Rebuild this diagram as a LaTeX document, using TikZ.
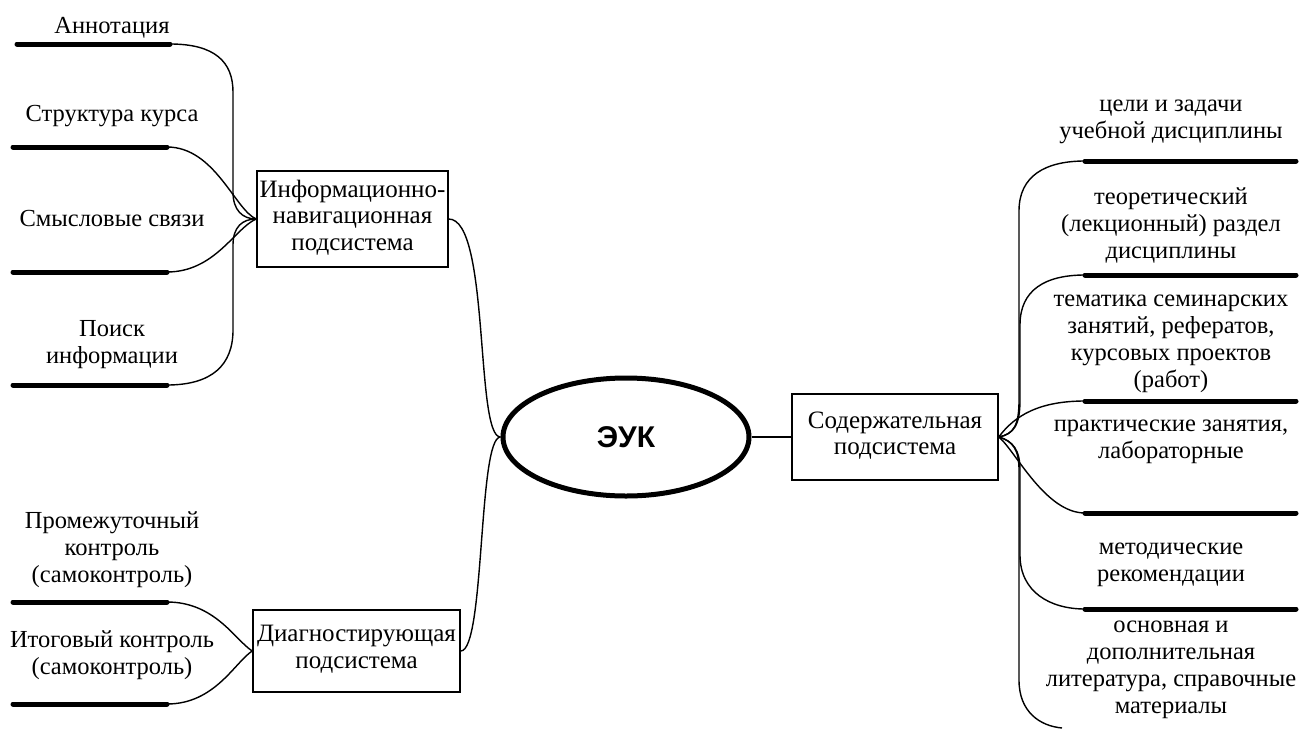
\documentclass[tikz,border=0pt]{standalone}
\usepackage{fontspec}
\setmainfont{Liberation Serif}
\newfontfamily\eukfont{Liberation Sans}
\usetikzlibrary{shapes.geometric}
\begin{document}
\begin{tikzpicture}[x=1pt,y=-1pt,
  lbl/.style={align=center,font=\fontsize{24.5}{27}\selectfont,inner sep=0pt,yshift=-3pt,
              execute at begin node=\strut, execute at end node=\strut},
  bar/.style={line width=5pt,line cap=round},
  conn/.style={line width=1.4pt},
  sysbox/.style={draw,line width=1.5pt,inner sep=0pt,align=center,font=\fontsize{25}{26.5}\selectfont,
              execute at begin node=\strut, execute at end node=\strut},
]
\useasboundingbox (0,0) rectangle (1299,731);

% central ellipse
\node[ellipse, draw, line width=5pt, minimum width=246pt, minimum height=118pt, inner sep=0pt,
      font=\eukfont\bfseries\fontsize{30}{32}\selectfont] (euk) at (626,437) {ЭУК};

% subsystem boxes
\node[sysbox, minimum width=191pt, minimum height=96pt] (info) at (352.5,219) {Информационно-\\навигационная\\подсистема};
\node[sysbox, minimum width=206pt, minimum height=86pt] (sod) at (895,437) {Содержательная\\подсистема};
\node[sysbox, minimum width=207pt, minimum height=82pt] (diag) at (356.5,651) {Диагностирующая\\подсистема};

% main connectors
\draw[conn] (info.east) .. controls (490,219) and (475,437) .. (euk.west);
\draw[conn] (diag.east) .. controls (485,651) and (478,437) .. (euk.west);
\draw[conn] (euk.east) -- (sod.west);

% left bars
\coordinate (a0) at (17,44);  \coordinate (a1) at (170,44);
\coordinate (b0) at (13,147); \coordinate (b1) at (167,147);
\coordinate (c0) at (13,272); \coordinate (c1) at (167,272);
\coordinate (d0) at (13,385); \coordinate (d1) at (167,385);
\coordinate (e0) at (13,602); \coordinate (e1) at (167,602);
\coordinate (f0) at (13,704); \coordinate (f1) at (167,704);
\foreach \p in {a,b,c,d,e,f} {\draw[bar] (\p0) -- (\p1);}

% right bars
\coordinate (r1a) at (1085,161); \coordinate (r1b) at (1296,161);
\coordinate (r2a) at (1085,275); \coordinate (r2b) at (1296,275);
\coordinate (r3a) at (1085,401); \coordinate (r3b) at (1296,401);
\coordinate (r4a) at (1085,513); \coordinate (r4b) at (1296,513);
\coordinate (r5a) at (1085,609); \coordinate (r5b) at (1296,609);
\coordinate (r6a) at (1062,728);
\foreach \p in {r1,r2,r3,r4,r5} {\draw[bar] (\p a) -- (\p b);}

% left branch curves
\draw[conn] (a1) .. controls +(45,0) and +(0,-30) .. ++(63,48) -- ++(0,100) .. controls +(0,18) and +(-14,0) .. (info.west);
\draw[conn] (b1) .. controls (215,147) and (235,210) .. (info.west);
\draw[conn] (c1) .. controls (215,272) and (235,228) .. (info.west);
\draw[conn] (d1) .. controls +(45,0) and +(0,35) .. ++(66,-55) -- ++(0,-85) .. controls +(0,-18) and +(-14,0) .. (info.west);
\draw[conn] (e1) .. controls (215,602) and (235,640) .. (diag.west);
\draw[conn] (f1) .. controls (215,704) and (235,662) .. (diag.west);

% right branch curves
\draw[conn] (sod.east) .. controls (1014,434) and (1019,425) .. (1019,400) -- (1019,211) .. controls (1019,176) and (1045,161) .. (r1a);
\draw[conn] (sod.east) .. controls (1014,434) and (1020,425) .. (1020,400) -- (1020,325) .. controls (1020,290) and (1045,275) .. (r2a);
\draw[conn] (sod.east) .. controls (1015,415) and (1040,401) .. (r3a);
\draw[conn] (sod.east) .. controls (1015,450) and (1045,513) .. (r4a);
\draw[conn] (sod.east) .. controls (1013,441) and (1020,450) .. (1020,470) -- (1020,555) .. controls (1020,592) and (1050,609) .. (r5a);
\draw[conn] (sod.east) .. controls (1013,441) and (1019,450) .. (1019,470) -- (1019,680) .. controls (1019,712) and (1040,726) .. (r6a);

% left labels
\node[lbl] (tann) at (112,25) {Аннотация};
\node[lbl] (tstr) at (112,113) {Структура курса};
\node[lbl] (tsms) at (112,218) {Смысловые связи};
\node[lbl] (tpoi) at (112,343.5) {Поиск\\информации};
\node[lbl] (tprm) at (112,548) {Промежуточный\\контроль\\(самоконтроль)};
\node[lbl] (titg) at (112,653.5) {Итоговый контроль\\(самоконтроль)};

% right labels
\node[lbl] (tcel) at (1171,120) {цели и задачи\\учебной дисциплины};
\node[lbl] (tteo) at (1171,224) {теоретический\\(лекционный) раздел\\дисциплины};
\node[lbl] (ttem) at (1171,342) {тематика семинарских\\занятий, рефератов,\\курсовых проектов\\(работ)};
\node[lbl] (tpra) at (1171,440) {практические занятия,\\лабораторные};
\node[lbl] (tmet) at (1171,563) {методические\\рекомендации};
\node[lbl] (tosn) at (1171,668) {основная и\\дополнительная\\литература, справочные\\материалы};
\end{tikzpicture}
\end{document}
